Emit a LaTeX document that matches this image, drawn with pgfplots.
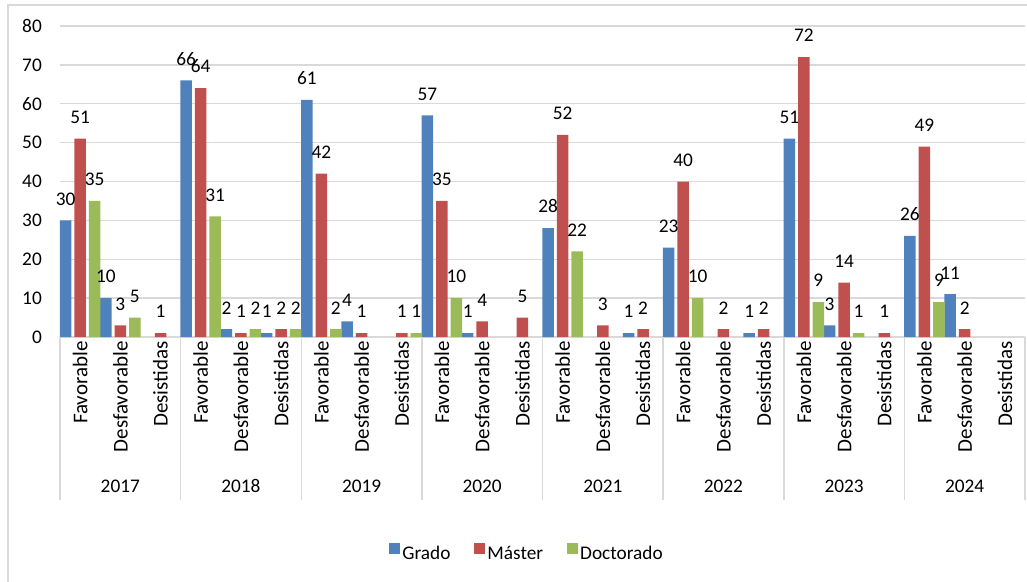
\documentclass[border=0pt]{standalone}
\usepackage{fontspec}
\setmainfont{Carlito}
\usepackage{pgfplots}
\pgfplotsset{compat=1.18}
\definecolor{grado}{HTML}{4F81BD}
\definecolor{master}{HTML}{C0504D}
\definecolor{doct}{HTML}{9BBB59}
\definecolor{gridgray}{HTML}{D9D9D9}
\newcommand{\chartfont}{\fontsize{19.3bp}{23bp}\selectfont}

\begin{document}
\begin{tikzpicture}
\useasboundingbox (0,0) rectangle (1027bp,582bp);
% chart frame (right and bottom edges are cut off in the reference)
\draw[gridgray, line width=1.5bp] (8bp,0) -- (8bp,577bp) -- (1027bp,577bp);

\begin{axis}[
    at={(60bp,245bp)}, anchor=south west,
    scale only axis,
    width=965bp, height=311bp,
    xmin=-0.5, xmax=23.5,
    ymin=0, ymax=80,
    ytick={0,10,...,80},
    xtick={0,...,23},
    xticklabels={Favorable,Desfavorable,Desistidas,Favorable,Desfavorable,Desistidas,
                 Favorable,Desfavorable,Desistidas,Favorable,Desfavorable,Desistidas,
                 Favorable,Desfavorable,Desistidas,Favorable,Desfavorable,Desistidas,
                 Favorable,Desfavorable,Desistidas,Favorable,Desfavorable,Desistidas},
    yticklabel style={font=\chartfont, inner sep=0pt, xshift=-18bp},
    xticklabel style={font=\fontsize{21bp}{25bp}\selectfont, rotate=90, anchor=east, inner sep=0pt},
    xticklabel shift=0bp,
    /pgf/number format/assume math mode=true,
    axis line style={draw=none},
    tick style={draw=none},
    ymajorgrids,
    grid style={gridgray, line width=1.3bp},
    ybar=3bp,
    bar width=11.5bp,
    clip=false,
    nodes near coords,
    every node near coord/.append style={font=\chartfont, inner sep=0pt, yshift=15bp, black},
    legend columns=3,
    legend style={at={(0.484,-0.695)}, anchor=center, draw=none, font=\chartfont,
                  /tikz/every even column/.append style={column sep=21bp},
                  nodes={inner sep=2.5bp}},
    legend image code/.code={\fill[#1] (0bp,-1bp) rectangle (11bp,10bp);},
]

% Grado
\addplot[fill=grado, draw=none] coordinates {
    (0,30) (1,10)
    (3,66) (4,2) (5,1)
    (6,61) (7,4)
    (9,57) (10,1)
    (12,28) (14,1)
    (15,23) (17,1)
    (18,51) (19,3)
    (21,26) (22,11)
};
% Master
\addplot[fill=master, draw=none] coordinates {
    (0,51) (1,3) (2,1)
    (3,64) (4,1) (5,2)
    (6,42) (7,1) (8,1)
    (9,35) (10,4) (11,5)
    (12,52) (13,3) (14,2)
    (15,40) (16,2) (17,2)
    (18,72) (19,14) (20,1)
    (21,49) (22,2)
};
% Doctorado
\addplot[fill=doct, draw=none] coordinates {
    (0,35) (1,5)
    (3,31) (4,2) (5,2)
    (6,2) (8,1)
    (9,10)
    (12,22)
    (15,10)
    (18,9) (19,1)
    (21,9)
};
\legend{Grado, Máster, Doctorado}

% year separators and labels
\pgfplotsinvokeforeach{-0.5,2.5,5.5,8.5,11.5,14.5,17.5,20.5,23.5}{
    \draw[gridgray, line width=1.5bp] (axis cs:#1,0) -- ([yshift=-163bp]axis cs:#1,0);
}
\node[font=\chartfont] at ([yshift=-149bp]axis cs:1,0) {2017};
\node[font=\chartfont] at ([yshift=-149bp]axis cs:4,0) {2018};
\node[font=\chartfont] at ([yshift=-149bp]axis cs:7,0) {2019};
\node[font=\chartfont] at ([yshift=-149bp]axis cs:10,0) {2020};
\node[font=\chartfont] at ([yshift=-149bp]axis cs:13,0) {2021};
\node[font=\chartfont] at ([yshift=-149bp]axis cs:16,0) {2022};
\node[font=\chartfont] at ([yshift=-149bp]axis cs:19,0) {2023};
\node[font=\chartfont] at ([yshift=-149bp]axis cs:22,0) {2024};
\end{axis}
\end{tikzpicture}
\end{document}
